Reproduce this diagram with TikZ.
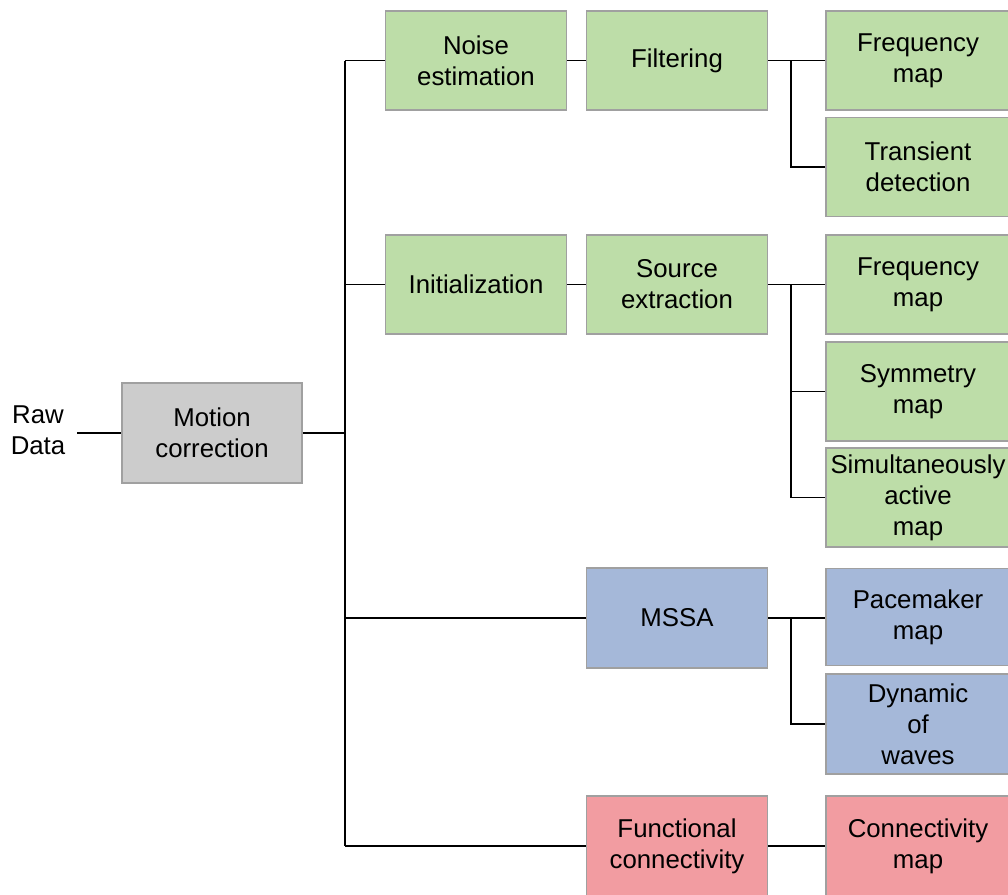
\documentclass[tikz,border=0pt]{standalone}
\usepackage{fontspec}
\setmainfont{Liberation Sans}
\definecolor{gfill}{HTML}{BDDDA8}
\definecolor{bfill}{HTML}{A5B8D9}
\definecolor{pfill}{HTML}{F29CA1}
\definecolor{kfill}{HTML}{CCCCCC}
\definecolor{bord}{HTML}{A0A0A0}
\begin{document}
\begin{tikzpicture}[x=1pt,y=-1pt,
  box/.style={draw=bord, line width=1.5pt, rectangle, minimum width=181pt, minimum height=99pt,
    align=center, inner sep=0pt, font=\fontsize{25.8}{31}\selectfont},
  gbox/.style={box, fill=gfill},
  bbox/.style={box, fill=bfill},
  pbox/.style={box, fill=pfill},
  kbox/.style={box, fill=kfill},
  rbox/.style={minimum width=184pt},
  link/.style={draw=black, line width=1.8pt}
]
\useasboundingbox (0,0) rectangle (1008,894);
\fill[white] (0,0) rectangle (1008,894);

\node[align=center, inner xsep=12pt, font=\fontsize{25.8}{31}\selectfont] (raw) at (38,430) {Raw\\Data};
\node[kbox, minimum width=180pt, minimum height=100pt] (mc) at (212,433) {Motion\\correction};

\node[gbox] (ne) at (476,60.5) {Noise\\estimation};
\node[gbox] (fi) at (677,60.5) {Filtering};
\node[gbox, rbox] (fm1) at (918,60.5) {Frequency\\map};
\node[gbox, rbox] (td) at (918,167) {Transient\\detection};

\node[gbox] (in) at (476,284.5) {Initialization};
\node[gbox] (se) at (677,284.5) {Source\\extraction};
\node[gbox, rbox] (fm2) at (918,284.5) {Frequency\\map};
\node[gbox, rbox] (sy) at (918,391.5) {Symmetry\\map};
\node[gbox, rbox] (sa) at (918,497.5) {Simultaneously\\active\\map};

\node[bbox, minimum height=100pt] (ms) at (677,618) {MSSA};
\node[bbox, rbox, minimum height=97pt] (pm) at (918,617) {Pacemaker\\map};
\node[bbox, rbox, minimum height=100pt] (dw) at (918,724) {Dynamic\\of\\waves};

\node[pbox, minimum height=100pt] (fc) at (677,846) {Functional\\connectivity};
\node[pbox, rbox, minimum height=100pt] (cm) at (918,846) {Connectivity\\map};

\coordinate (tx) at (345,0);
\coordinate (bx) at (791,0);

\draw[link] (raw.east |- mc.west) -- (mc.west);
\draw[link] (mc.east) -- (mc.east -| tx);
\draw[link] (ne.west -| tx) -- (fc.west -| tx);
\draw[link] (ne.west -| tx) -- (ne.west);
\draw[link] (in.west -| tx) -- (in.west);
\draw[link] (ms.west -| tx) -- (ms.west);
\draw[link] (fc.west -| tx) -- (fc.west);

\draw[link] (ne.east) -- (fi.west);
\draw[link] (fi.east) -- (fm1.west);
\draw[link] (fm1.west -| bx) |- (td.west);

\draw[link] (in.east) -- (se.west);
\draw[link] (se.east) -- (fm2.west);
\draw[link] (fm2.west -| bx) |- (sy.west);
\draw[link] (fm2.west -| bx) |- (sa.west);

\draw[link] (ms.east) -- (ms.east -| pm.west);
\draw[link] (ms.east -| bx) |- (dw.west);

\draw[link] (fc.east) -- (cm.west);
\end{tikzpicture}
\end{document}
